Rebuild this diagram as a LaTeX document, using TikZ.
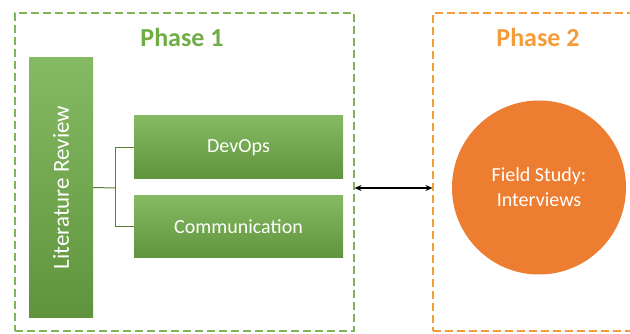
\documentclass[tikz,border=0pt]{standalone}
\usepackage{fontspec}
\setmainfont{Carlito}
\usepackage{tikz}
\usetikzlibrary{arrows.meta,positioning,calc}

\definecolor{phasegreen}{RGB}{112,173,71}
\definecolor{darkgreen}{RGB}{84,130,53}
\definecolor{phaseorange}{RGB}{245,156,58}
\definecolor{circorange}{RGB}{237,125,49}

\tikzset{
  frame/.style={draw,line width=1.1pt,dash pattern=on 8pt off 4pt,minimum width=#1},
  greenbox/.style={rectangle,top color=phasegreen!85!white,bottom color=phasegreen!85!black,
    text=white,font=\fontsize{20}{24}\selectfont,inner sep=0pt},
  link/.style={darkgreen,line width=1pt}
}

\begin{document}
\begin{tikzpicture}[x=1pt,y=-1pt]
    \useasboundingbox (0,0) rectangle (630,334);
    \clip (0,0) rectangle (630,334);

    % Phase frames
    \node[frame=339pt,phasegreen!90!white,minimum height=318pt] (p1) at (184.5,172) {};
    \node[frame=212pt,phaseorange,minimum height=318pt] (p2) at (539,172) {};
    \node[phasegreen,font=\bfseries\fontsize{26}{30}\selectfont] (t1) at (182,37) {Phase 1};
    \node[phaseorange,font=\bfseries\fontsize{26}{30}\selectfont] (t2) at (538,37) {Phase 2};

    % Phase 1 content
    \node[greenbox,minimum width=259pt,minimum height=64pt,rotate=90,font=\fontsize{23}{27}\selectfont] (lit) at (61,187.5) {Literature Review};
    \node[greenbox,minimum width=209pt,minimum height=63pt] (dev) at (238.5,147.5) {DevOps};
    \node[greenbox,minimum width=209pt,minimum height=62pt] (com) at (238.5,227) {Communication};

    % Tree connector
    \coordinate (fork) at (115,188);
    \draw[link] (lit.south) -- (fork);
    \draw[link] (fork) |- (dev.west);
    \draw[link] (fork) |- (com.west);

    % Phase 2 content
    \node[circle,fill=circorange,minimum size=174pt,text=white,align=center,
      font=\fontsize{20}{25}\selectfont] (field) at (539,187.5) {Field Study:\\Interviews};

    % Link between phases
    \draw[{Stealth[length=7pt,width=6pt]}-{Stealth[length=7pt,width=6pt]},line width=1.1pt]
      (p1.east |- 0,188) -- (p2.west |- 0,188);
\end{tikzpicture}
\end{document}
